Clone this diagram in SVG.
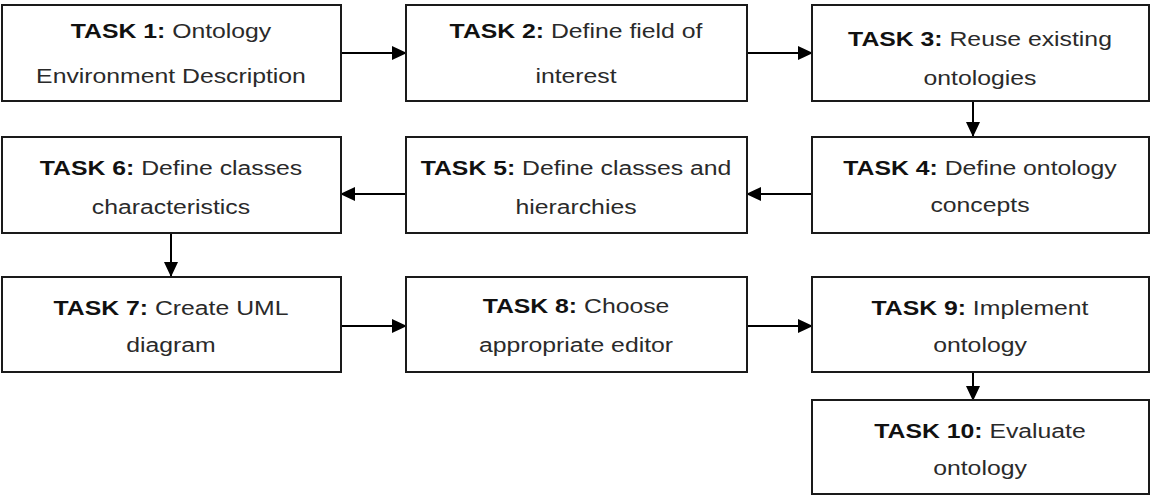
<svg xmlns="http://www.w3.org/2000/svg" width="1151" height="496" viewBox="0 0 1151 496">
<defs>
<style>
.box{fill:#fff;stroke:#1a1a1a;stroke-width:2}
.t{font-family:"Liberation Sans",Arial,sans-serif;font-size:21px;fill:#2a2a2a;text-anchor:middle}
.b{font-weight:bold;fill:#111}
.c{stroke:#000;stroke-width:2;fill:none;marker-end:url(#ah)}
</style>
<marker id="ah" markerWidth="15" markerHeight="14" refX="14" refY="7" orient="auto" markerUnits="userSpaceOnUse">
<path d="M0,0 L15,7 L0,14 Z" fill="#000"/>
</marker>
</defs>
<rect width="1151" height="496" fill="#fff"/>
<g id="connectors">
<line class="c" x1="341" y1="53" x2="406" y2="53"/>
<line class="c" x1="747" y1="53" x2="812" y2="53"/>
<line class="c" x1="973" y1="101" x2="973" y2="136"/>
<line class="c" x1="812" y1="194" x2="747" y2="194"/>
<line class="c" x1="406" y1="194" x2="341" y2="194"/>
<line class="c" x1="171" y1="234" x2="171" y2="276"/>
<line class="c" x1="341" y1="326" x2="406" y2="326"/>
<line class="c" x1="747" y1="326" x2="812" y2="326"/>
<line class="c" x1="973" y1="372" x2="973" y2="400"/>
</g>
<g id="task1"><rect class="box" x="2" y="5" width="339" height="96"/>
<text class="t" transform="translate(171,38) scale(1.18,1)"><tspan class="b">TASK 1:</tspan> Ontology</text>
<text class="t" transform="translate(171,83) scale(1.18,1)">Environment Description</text></g>
<g id="task2"><rect class="box" x="406" y="5" width="341" height="96"/>
<text class="t" transform="translate(576,38) scale(1.18,1)"><tspan class="b">TASK 2:</tspan> Define field of</text>
<text class="t" transform="translate(576,83) scale(1.18,1)">interest</text></g>
<g id="task3"><rect class="box" x="812" y="5" width="337" height="96"/>
<text class="t" transform="translate(980,46) scale(1.18,1)"><tspan class="b">TASK 3:</tspan> Reuse existing</text>
<text class="t" transform="translate(980,85) scale(1.18,1)">ontologies</text></g>
<g id="task4"><rect class="box" x="812" y="137" width="337" height="96"/>
<text class="t" transform="translate(980,175) scale(1.18,1)"><tspan class="b">TASK 4:</tspan> Define ontology</text>
<text class="t" transform="translate(980,212) scale(1.18,1)">concepts</text></g>
<g id="task5"><rect class="box" x="406" y="137" width="341" height="96"/>
<text class="t" transform="translate(576,175) scale(1.18,1)"><tspan class="b">TASK 5:</tspan> Define classes and</text>
<text class="t" transform="translate(576,214) scale(1.18,1)">hierarchies</text></g>
<g id="task6"><rect class="box" x="2" y="137" width="339" height="96"/>
<text class="t" transform="translate(171,175) scale(1.18,1)"><tspan class="b">TASK 6:</tspan> Define classes</text>
<text class="t" transform="translate(171,214) scale(1.18,1)">characteristics</text></g>
<g id="task7"><rect class="box" x="2" y="277" width="339" height="95"/>
<text class="t" transform="translate(171,315) scale(1.18,1)"><tspan class="b">TASK 7:</tspan> Create UML</text>
<text class="t" transform="translate(171,352) scale(1.18,1)">diagram</text></g>
<g id="task8"><rect class="box" x="406" y="277" width="341" height="95"/>
<text class="t" transform="translate(576,313) scale(1.18,1)"><tspan class="b">TASK 8:</tspan> Choose</text>
<text class="t" transform="translate(576,352) scale(1.18,1)">appropriate editor</text></g>
<g id="task9"><rect class="box" x="812" y="277" width="337" height="95"/>
<text class="t" transform="translate(980,315) scale(1.18,1)"><tspan class="b">TASK 9:</tspan> Implement</text>
<text class="t" transform="translate(980,352) scale(1.18,1)">ontology</text></g>
<g id="task10"><rect class="box" x="812" y="400" width="337" height="94"/>
<text class="t" transform="translate(980,438) scale(1.18,1)"><tspan class="b">TASK 10:</tspan> Evaluate</text>
<text class="t" transform="translate(980,475) scale(1.18,1)">ontology</text></g>
</svg>
